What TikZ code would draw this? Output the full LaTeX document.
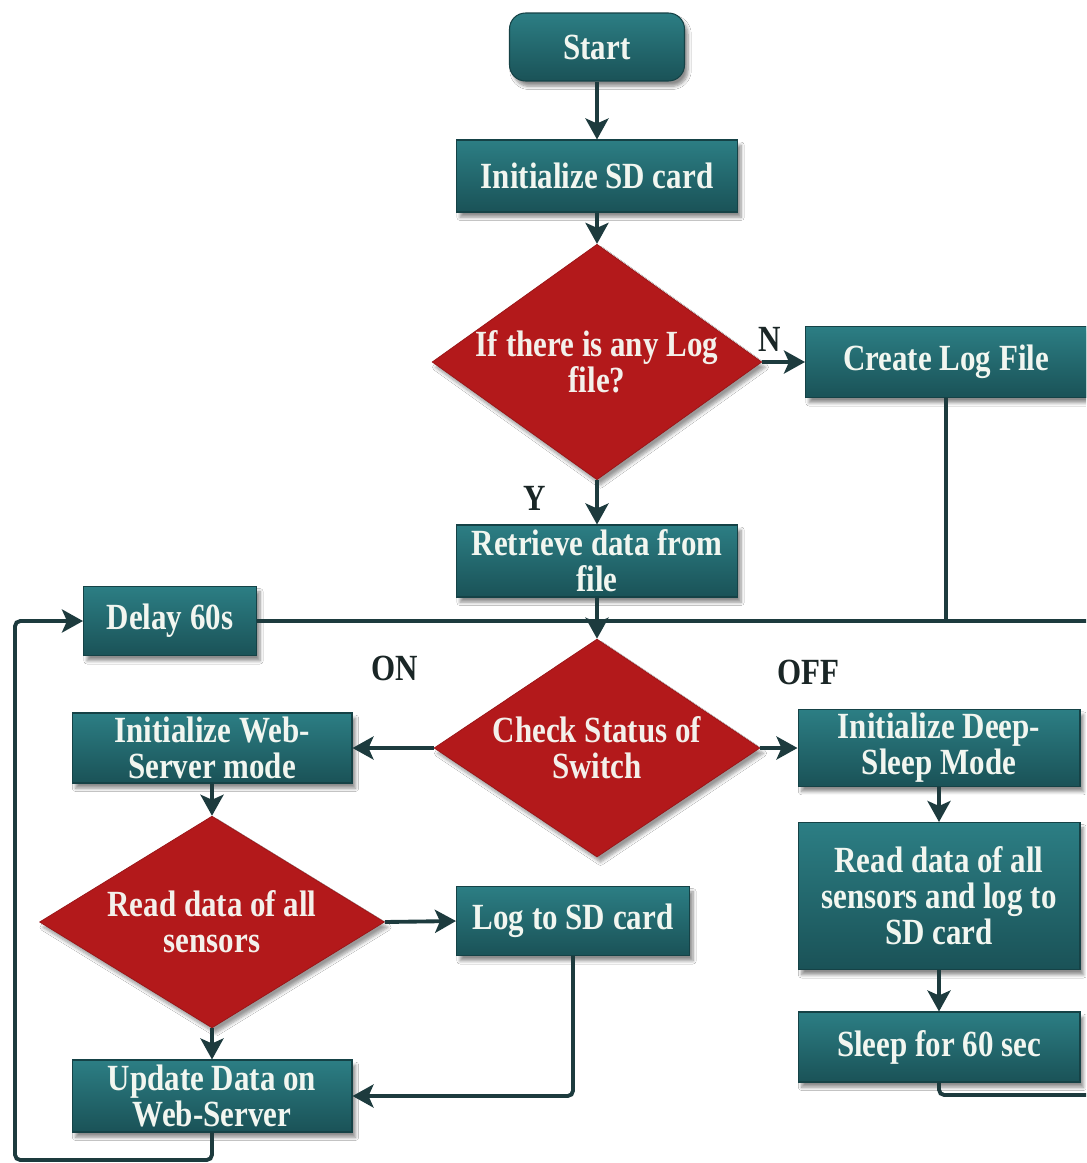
\documentclass[tikz,border=0pt]{standalone}
\usepackage{fontspec}
\setmainfont[FakeStretch=0.84]{Liberation Serif}
\usetikzlibrary{arrows.meta,shapes.geometric,shadows.blur}
\definecolor{tealtop}{HTML}{2C7E84}
\definecolor{tealbot}{HTML}{1A5257}
\definecolor{dred}{HTML}{B3191B}
\definecolor{lnc}{HTML}{1D3B3E}
\definecolor{txtw}{HTML}{F2F6F0}
\definecolor{lbl}{HTML}{1A2626}
\tikzset{
  box/.style={rectangle, top color=tealtop, bottom color=tealbot, draw=tealbot!80!black, line width=0.6pt,
    text=txtw, font=\fontsize{21}{20.5}\selectfont\bfseries, align=center, inner sep=2pt,
    blur shadow={shadow xshift=2pt, shadow yshift=-3pt, shadow blur steps=6, shadow opacity=45}},
  decis/.style={diamond, fill=dred, draw=dred!85!black, line width=0.4pt, text=txtw!90!pink,
    font=\fontsize{21}{20.5}\selectfont\bfseries, align=center, inner sep=0pt, aspect=1.4,
    blur shadow={shadow xshift=2pt, shadow yshift=-3pt, shadow blur steps=6, shadow opacity=40}},
  lab/.style={text=lbl, font=\fontsize{21}{20.5}\selectfont\bfseries},
  conn/.style={draw=lnc, line width=2.2pt, rounded corners=3pt},
  arr/.style={conn, -{Stealth[length=0.42cm, width=0.46cm, inset=0.1cm]}}
}
\begin{document}
\begin{tikzpicture}[x=0.02cm, y=-0.02cm]
\useasboundingbox (0,0) rectangle (1086,1163);
\fill[white] (0,0) rectangle (1086,1163);
\clip (0,0) rectangle (1086,1163);

\node[box, rounded corners=0.32cm, minimum width=3.5cm, minimum height=1.36cm] (start) at (597,47) {Start};
\node[box, minimum width=5.62cm, minimum height=1.44cm] (init) at (597,176) {Initialize SD card};
\node[decis, minimum width=6.56cm, minimum height=4.6cm] (d1) at (597,362) {If there is any Log\\file?};
\node[box, minimum width=5.62cm, minimum height=1.42cm] (clog) at (946,362) {Create Log File};
\node[box, minimum width=5.62cm, minimum height=1.44cm] (retr) at (597,561) {Retrieve data from\\file};
\node[box, minimum width=3.46cm, minimum height=1.38cm] (delay) at (170,621) {Delay 60s};
\node[decis, minimum width=6.52cm, minimum height=4.36cm] (d2) at (597,748) {Check Status of\\Switch};
\node[box, minimum width=5.6cm, minimum height=1.4cm] (web) at (212,748) {Initialize Web-\\Server mode};
\node[box, minimum width=5.64cm, minimum height=1.4cm] (deep) at (939,748) {Initialize Deep-\\Sleep Mode};
\node[decis, minimum width=6.9cm, minimum height=3.7cm] (d3) at (212,922) {Read data of all\\sensors};
\node[box, minimum width=4.66cm, minimum height=1.38cm] (logsd) at (573,921) {Log to SD card};
\node[box, minimum width=5.64cm, minimum height=2.94cm] (rall) at (939,896) {Read data of all\\sensors and log to\\SD card};
\node[box, minimum width=5.64cm, minimum height=1.4cm] (sleep) at (939,1047) {Sleep for 60 sec};
\node[box, minimum width=5.6cm, minimum height=1.44cm] (upd) at (212,1096) {Update Data on\\Web-Server};

\node[lab] (ly) at (535,498) {Y};
\node[lab] (ln) at (770,339) {N};
\node[lab] (lon) at (395,668) {ON};
\node[lab] (loff) at (808,672) {OFF};

\coordinate (rc) at (1110,1095);
\coordinate (lc) at (15,1160);

\draw[arr] (start) -- (init);
\draw[arr] (init) -- (d1);
\draw[arr] (d1.east) -- (clog.west);
\draw[arr] (d1.south) -- (retr.north);
\draw[conn] (clog.south) -- (clog.south |- delay.east);
\draw[conn] (sleep.south) |- (rc) |- (delay.east);
\draw[arr] (retr.south) -- (d2.north);
\draw[arr] (d2.west) -- (web.east);
\draw[arr] (d2.east) -- (deep.west);
\draw[arr] (web.south) -- (d3.north);
\draw[arr] (d3.east) -- (logsd.west);
\draw[arr] (d3.south) -- (upd.north);
\draw[arr] (logsd.south) |- (upd.east);
\draw[arr] (deep.south) -- (rall.north);
\draw[arr] (rall.south) -- (sleep.north);
\draw[arr] (upd.south) |- (lc) |- (delay.west);
\end{tikzpicture}
\end{document}
